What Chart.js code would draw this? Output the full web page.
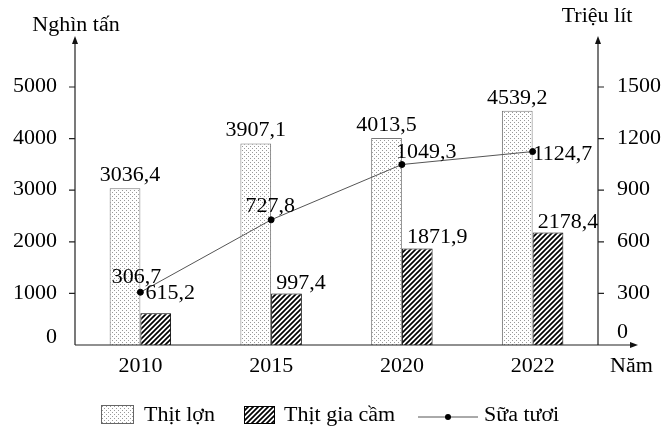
<!DOCTYPE html>
<html>
<head>
<meta charset="utf-8">
<script src="https://cdn.jsdelivr.net/npm/chart.js@4"></script>
<style>
html,body{margin:0;padding:0;background:#fff;}
#wrap{width:672px;height:443px;}
</style>
</head>
<body>
<div id="wrap"><canvas id="c" width="672" height="443"></canvas></div>
<script>
const categories = ['2010', '2015', '2020', '2022'];
const porkValues = [3036.4, 3907.1, 4013.5, 4539.2];
const poultryValues = [615.2, 997.4, 1871.9, 2178.4];
const milkValues = [306.7, 727.8, 1049.3, 1124.7];
const leftTicks = [0, 1000, 2000, 3000, 4000, 5000];
const rightTicks = [0, 300, 600, 900, 1200, 1500];
const seriesNames = ['Thịt lợn', 'Thịt gia cầm', 'Sữa tươi'];
const leftTitle = 'Nghìn tấn';
const rightTitle = 'Triệu lít';
const xTitle = 'Năm';

const FONT = '20px "Liberation Serif", "Times New Roman", serif';
const SX = 1.1; // horizontal text stretch seen in the reference

function fmt(v){ return v.toFixed(1).replace('.', ','); }

function txt(ctx, s, x, y){
  ctx.save();
  ctx.translate(x, y);
  ctx.scale(SX, 1);
  ctx.fillText(s, 0, 0);
  ctx.restore();
}

function dotPattern(){
  const c = document.createElement('canvas');
  c.width = 4; c.height = 4;
  const x = c.getContext('2d');
  x.fillStyle = '#fff'; x.fillRect(0,0,4,4);
  x.fillStyle = '#999';
  x.fillRect(0,0,1,1);
  x.fillRect(2,2,1,1);
  return x.createPattern(c, 'repeat');
}
function hatchPattern(){
  const s = 5;
  const c = document.createElement('canvas');
  c.width = s; c.height = s;
  const x = c.getContext('2d');
  x.fillStyle = '#fff'; x.fillRect(0,0,s,s);
  x.strokeStyle = '#000'; x.lineWidth = 1.7;
  x.beginPath();
  x.moveTo(-1, s+1); x.lineTo(s+1, -1);
  x.moveTo(-1, 1); x.lineTo(1, -1);
  x.moveTo(s-1, s+1); x.lineTo(s+1, s-1);
  x.stroke();
  return x.createPattern(c, 'repeat');
}
const DOTS = dotPattern();
const HATCH = hatchPattern();

// label placement offsets (style, not data)
const milkLabelOffsets = [
  {dx:-4, dy:-9, align:'center'},
  {dx:-1, dy:-8, align:'center'},
  {dx:-6, dy:-7, align:'left'},
  {dx:0, dy:8, align:'left'}
];

function arrowUp(ctx, x, y){
  ctx.beginPath(); ctx.moveTo(x, y); ctx.lineTo(x-3, y+8); ctx.lineTo(x+3, y+8); ctx.closePath(); ctx.fill();
}
function arrowRight(ctx, x, y){
  ctx.beginPath(); ctx.moveTo(x, y); ctx.lineTo(x-8, y-3); ctx.lineTo(x-8, y+3); ctx.closePath(); ctx.fill();
}

const decor = {
  id: 'decor',
  afterDatasetsDraw(chart){
    const ctx = chart.ctx;
    const a = chart.chartArea;
    const ys = chart.scales.y, y1 = chart.scales.y1, xs = chart.scales.x;
    ctx.save();
    ctx.strokeStyle = '#222'; ctx.fillStyle = '#111'; ctx.lineWidth = 1.2;
    const base = ys.getPixelForValue(0);
    // axes
    ctx.beginPath();
    ctx.moveTo(a.left, base); ctx.lineTo(a.left, 40);
    ctx.moveTo(a.right, base); ctx.lineTo(a.right, 40);
    ctx.moveTo(a.left, base); ctx.lineTo(634, base);
    ctx.stroke();
    arrowUp(ctx, a.left, 36); arrowUp(ctx, a.right, 36); arrowRight(ctx, 638, base);
    // ticks
    ctx.beginPath();
    leftTicks.forEach(v => { if (v > 0) { const p = ys.getPixelForValue(v); ctx.moveTo(a.left-6, p); ctx.lineTo(a.left, p); } });
    rightTicks.forEach(v => { if (v > 0) { const p = y1.getPixelForValue(v); ctx.moveTo(a.right, p); ctx.lineTo(a.right+6, p); } });
    ctx.stroke();
    ctx.font = FONT; ctx.fillStyle = '#000'; ctx.textBaseline = 'middle';
    ctx.textAlign = 'right';
    leftTicks.forEach(v => { const p = ys.getPixelForValue(v) - (v === 0 ? 7 : 0); txt(ctx, String(v), 57, p); });
    ctx.textAlign = 'left';
    rightTicks.forEach(v => { const p = y1.getPixelForValue(v) - (v === 0 ? 12 : 0); txt(ctx, String(v), 617, p); });
    ctx.textAlign = 'center';
    categories.forEach((c, i) => txt(ctx, c, xs.getPixelForValue(i), 367));
    // titles
    ctx.textBaseline = 'alphabetic';
    txt(ctx, leftTitle, a.left+1, 31);
    txt(ctx, rightTitle, a.right-1, 22);
    ctx.textAlign = 'left';
    txt(ctx, xTitle, 610, 372);
    // value labels
    const m0 = chart.getDatasetMeta(0), m1 = chart.getDatasetMeta(1), m2 = chart.getDatasetMeta(2);
    ctx.textAlign = 'center';
    m0.data.forEach((b, i) => txt(ctx, fmt(porkValues[i]), b.x + (i === 0 ? 5 : 0), b.y - 7));
    ctx.textAlign = 'left';
    m1.data.forEach((b, i) => txt(ctx, fmt(poultryValues[i]), b.x - b.width/2 + 5, b.y - (i === 0 ? 14 : 5)));
    m2.data.forEach((p, i) => {
      const o = milkLabelOffsets[i];
      ctx.textAlign = o.align;
      txt(ctx, fmt(milkValues[i]), p.x + o.dx, p.y + o.dy);
    });
    // legend
    const ly = 416;
    ctx.fillStyle = DOTS; ctx.fillRect(101, 405, 32, 18);
    ctx.strokeStyle = '#666'; ctx.lineWidth = 1; ctx.strokeRect(101.5, 405.5, 32, 18);
    ctx.fillStyle = HATCH; ctx.fillRect(244, 406, 30, 17);
    ctx.strokeStyle = '#000'; ctx.strokeRect(244.5, 406.5, 30, 17);
    ctx.strokeStyle = '#555'; ctx.lineWidth = 1;
    ctx.beginPath(); ctx.moveTo(418, 417); ctx.lineTo(478, 417); ctx.stroke();
    ctx.fillStyle = '#000';
    ctx.beginPath(); ctx.arc(448, 417, 3, 0, Math.PI*2); ctx.fill();
    ctx.textAlign = 'left'; ctx.textBaseline = 'middle';
    txt(ctx, seriesNames[0], 144, ly);
    txt(ctx, seriesNames[1], 284, ly);
    txt(ctx, seriesNames[2], 484, ly);
    ctx.restore();
  }
};

new Chart(document.getElementById('c'), {
  type: 'bar',
  data: {
    labels: categories,
    datasets: [
      { label: seriesNames[0], data: porkValues, backgroundColor: DOTS, borderColor: '#777', borderWidth: 1, yAxisID: 'y', order: 2 },
      { label: seriesNames[1], data: poultryValues, backgroundColor: HATCH, borderColor: '#000', borderWidth: 1, yAxisID: 'y', order: 2 },
      { type: 'line', label: seriesNames[2], data: milkValues, yAxisID: 'y1', borderColor: '#555', borderWidth: 1, pointRadius: 3, pointBackgroundColor: '#000', pointBorderColor: '#000', pointBorderWidth: 1, tension: 0, order: 0 }
    ]
  },
  options: {
    responsive: false,
    animation: false,
    devicePixelRatio: 1,
    layout: { padding: { left: 75, right: 74, top: 87, bottom: 98 } },
    categoryPercentage: 0.47,
    barPercentage: 1,
    plugins: { legend: { display: false }, tooltip: { enabled: false } },
    scales: {
      x: { display: false, offset: true },
      y: { display: false, min: 0, max: 5000 },
      y1: { display: false, min: 0, max: 1500, position: 'right' }
    }
  },
  plugins: [decor]
});
</script>
</body>
</html>
